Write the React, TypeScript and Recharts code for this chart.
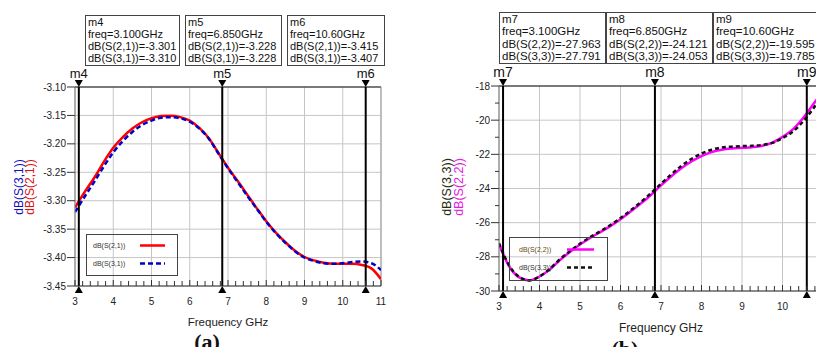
import React from "react";
import {
  LineChart,
  Line,
  XAxis,
  YAxis,
  CartesianGrid,
  ReferenceLine,
} from "recharts";

// frequency grid shared by both plots (GHz)
const FREQ = [
  3, 3.25, 3.5, 3.75, 4, 4.25, 4.5, 4.75, 5, 5.25, 5.5, 5.75, 6, 6.25, 6.5,
  6.75, 7, 7.25, 7.5, 7.75, 8, 8.25, 8.5, 8.75, 9, 9.25, 9.5, 9.75, 10, 10.25,
  10.5, 10.75, 11,
];

// (a) insertion loss
const S21 = [
  -3.312, -3.285, -3.26, -3.232, -3.207, -3.188, -3.173, -3.162, -3.155,
  -3.151, -3.1505, -3.153, -3.159, -3.172, -3.19, -3.216, -3.242, -3.265,
  -3.289, -3.313, -3.336, -3.356, -3.373, -3.388, -3.399, -3.405, -3.409,
  -3.411, -3.411, -3.411, -3.413, -3.419, -3.438,
];
const S31 = [
  -3.32, -3.293, -3.267, -3.24, -3.215, -3.195, -3.179, -3.167, -3.159,
  -3.154, -3.153, -3.155, -3.161, -3.173, -3.191, -3.217, -3.243, -3.267,
  -3.291, -3.314, -3.337, -3.357, -3.374, -3.389, -3.4, -3.406, -3.41, -3.411,
  -3.41, -3.408, -3.407, -3.41, -3.422,
];

// (b) return loss
const S22 = [
  -27.25, -28.55, -29.2, -29.38, -29.15, -28.75, -28.2, -27.72, -27.28, -26.9,
  -26.55, -26.2, -25.8, -25.35, -24.88, -24.38, -23.82, -23.3, -22.82, -22.42,
  -22.1, -21.87, -21.73, -21.66, -21.62, -21.58, -21.5, -21.32, -20.98,
  -20.55, -19.9, -19.1, -18.3,
];
const S33 = [
  -27.2, -28.5, -29.18, -29.38, -29.15, -28.72, -28.15, -27.67, -27.23,
  -26.85, -26.5, -26.14, -25.73, -25.28, -24.8, -24.28, -23.72, -23.18,
  -22.68, -22.27, -21.95, -21.73, -21.6, -21.55, -21.52, -21.5, -21.45,
  -21.33, -21.05, -20.68, -20.1, -19.35, -18.5,
];

const X_MAJOR = [3, 4, 5, 6, 7, 8, 9, 10, 11];
const Y_TICKS_A = [-3.45, -3.4, -3.35, -3.3, -3.25, -3.2, -3.15, -3.1];
const Y_TICKS_B = [
  -30, -29, -28, -27, -26, -25, -24, -23, -22, -21, -20, -19, -18,
];
const Y_GRID_B = [-30, -28, -26, -24, -22, -20, -18];

const NAMES_A = ["dB(S(2,1))", "dB(S(3,1))"];
const NAMES_B = ["dB(S(2,2))", "dB(S(3,3))"];

const MARK_NAMES_A = ["m4", "m5", "m6"];
const MARK_NAMES_B = ["m7", "m8", "m9"];
const MARK_FREQ = [3.1, 6.85, 10.6];
const MARK_FREQ_TEXT = ["3.100", "6.850", "10.60"];
const MARK_S21 = ["-3.301", "-3.228", "-3.415"];
const MARK_S31 = ["-3.310", "-3.228", "-3.407"];
const MARK_S22 = ["-27.963", "-24.121", "-19.595"];
const MARK_S33 = ["-27.791", "-24.053", "-19.785"];

// minor ticks every 0.2 GHz along the frequency axis
const X_MINOR: number[] = [];
for (let i = 0; i <= 40; i++) X_MINOR.push(Math.round((3 + i * 0.2) * 10) / 10);

const dataA = FREQ.map((f, i) => ({ f, s21: S21[i], s31: S31[i] }));
const dataB = FREQ.map((f, i) => ({ f, s22: S22[i], s33: S33[i] }));

const FONT = 'Arial, "Liberation Sans", sans-serif';
const SERIF = '"Liberation Serif", "Times New Roman", serif';
const GRID = "#c6c6c6";

function XTick(props: any) {
  const { x, y, payload } = props;
  const v = payload.value;
  const major = Math.abs(v - Math.round(v)) < 1e-6;
  return (
    <g>
      <line x1={x} x2={x} y1={y} y2={y - (major ? 6 : 5)} stroke="#333" />
      {major && (
        <text
          x={x}
          y={y + 19}
          textAnchor="middle"
          fontSize={10}
          fontFamily={FONT}
          fill="#222"
        >
          {Math.round(v)}
        </text>
      )}
    </g>
  );
}

function YTick(props: any) {
  const { x, y, payload, digits, every } = props;
  const v = payload.value;
  const major = every ? Math.round(v) % every === 0 : true;
  return (
    <g>
      <line x1={x - (major ? 8 : 4)} x2={x} y1={y} y2={y} stroke="#333" />
      {major && (
        <text
          x={x - 9}
          y={y + 3.5}
          textAnchor="end"
          fontSize={10}
          fontFamily={FONT}
          fill="#222"
        >
          {v.toFixed(digits)}
        </text>
      )}
    </g>
  );
}

function MarkerGlyph({ viewBox, name, size }: any) {
  if (!viewBox) return null;
  const { x, y, height } = viewBox;
  const b = y + height;
  return (
    <g>
      <polygon points={`${x - 4},${y - 7} ${x + 4},${y - 7} ${x},${y}`} fill="#000" />
      <polygon points={`${x - 4},${b + 7} ${x + 4},${b + 7} ${x},${b}`} fill="#000" />
      <text
        x={x}
        y={y - 9}
        textAnchor="middle"
        fontSize={size}
        fontFamily={FONT}
        fill="#111"
      >
        {name}
      </text>
    </g>
  );
}

function MarkerBox({ left, top, width, size, lh, lines }: any) {
  return (
    <div
      style={{
        position: "absolute",
        left,
        top,
        width,
        border: "1px solid #444",
        padding: "0px 2px 1px 2px",
        fontFamily: FONT,
        fontSize: size,
        lineHeight: `${lh}px`,
        color: "#111",
        whiteSpace: "nowrap",
        background: "#fff",
      }}
    >
      {lines.map((t: string) => (
        <div key={t}>{t}</div>
      ))}
    </div>
  );
}

export default function App() {
  return (
    <div
      style={{
        position: "absolute",
        left: 0,
        top: 0,
        width: 816,
        height: 347,
        overflow: "hidden",
        background: "#fff",
        fontFamily: FONT,
      }}
    >
      {/* (a) */}
      <div style={{ position: "absolute", left: 0, top: 0 }}>
        <LineChart
          width={400}
          height={347}
          data={dataA}
          margin={{ top: 87, right: 19, bottom: 31, left: 0 }}
        >
          <CartesianGrid stroke={GRID} verticalValues={X_MAJOR} horizontalValues={Y_TICKS_A} />
          <XAxis
            dataKey="f"
            type="number"
            domain={[3, 11]}
            ticks={X_MINOR}
            interval={0}
            height={30}
            tickSize={0}
            tickMargin={0}
            tickLine={false}
            axisLine={{ stroke: "#333" }}
            tick={(p: any) => <XTick {...p} />}
            allowDataOverflow
          />
          <YAxis
            type="number"
            domain={[-3.45, -3.1]}
            ticks={Y_TICKS_A}
            interval={0}
            width={75}
            tickSize={0}
            tickMargin={0}
            tickLine={false}
            axisLine={{ stroke: "#777" }}
            tick={(p: any) => <YTick {...p} digits={2} />}
            allowDataOverflow
          />
          <ReferenceLine y={-3.1} stroke="#111" strokeWidth={1.2} />
          <ReferenceLine x={11} stroke="#999" />
          <Line
            type="monotone"
            dataKey="s21"
            stroke="#ff0000"
            strokeWidth={2.5}
            dot={false}
            isAnimationActive={false}
          />
          <Line
            type="monotone"
            dataKey="s31"
            stroke="#0000c8"
            strokeWidth={2.5}
            strokeDasharray="5 3"
            dot={false}
            isAnimationActive={false}
          />
          {MARK_FREQ.map((f, i) => (
            <ReferenceLine
              key={f}
              x={f}
              stroke="#000"
              strokeWidth={2}
              label={(p: any) => (
                <MarkerGlyph viewBox={p.viewBox} name={MARK_NAMES_A[i]} size={13} />
              )}
            />
          ))}
        </LineChart>
      </div>

      {/* (b) */}
      <div style={{ position: "absolute", left: 408, top: 0 }}>
        <LineChart
          width={430}
          height={347}
          data={dataB}
          margin={{ top: 86, right: 15, bottom: 26, left: 0 }}
        >
          <CartesianGrid stroke={GRID} verticalValues={X_MAJOR} horizontalValues={Y_GRID_B} />
          <XAxis
            dataKey="f"
            type="number"
            domain={[3, 11]}
            ticks={X_MINOR}
            interval={0}
            height={30}
            tickSize={0}
            tickMargin={0}
            tickLine={false}
            axisLine={{ stroke: "#333" }}
            tick={(p: any) => <XTick {...p} />}
            allowDataOverflow
          />
          <YAxis
            type="number"
            domain={[-30, -18]}
            ticks={Y_TICKS_B}
            interval={0}
            width={91}
            tickSize={0}
            tickMargin={0}
            tickLine={false}
            axisLine={{ stroke: "#777" }}
            tick={(p: any) => <YTick {...p} digits={0} every={2} />}
            allowDataOverflow
          />
          <ReferenceLine y={-18} stroke="#111" strokeWidth={1.2} />
          <Line
            type="monotone"
            dataKey="s22"
            stroke="#ff00ff"
            strokeWidth={2.5}
            dot={false}
            isAnimationActive={false}
          />
          <Line
            type="monotone"
            dataKey="s33"
            stroke="#111"
            strokeWidth={2.5}
            strokeDasharray="4 3"
            dot={false}
            isAnimationActive={false}
          />
          {MARK_FREQ.map((f, i) => (
            <ReferenceLine
              key={f}
              x={f}
              stroke="#000"
              strokeWidth={2}
              label={(p: any) => (
                <MarkerGlyph viewBox={p.viewBox} name={MARK_NAMES_B[i]} size={14} />
              )}
            />
          ))}
        </LineChart>
      </div>

      {/* marker readouts */}
      {MARK_NAMES_A.map((m, i) => (
        <MarkerBox
          key={m}
          left={[85, 185, 287][i]}
          top={15}
          width={[89, 91, 92][i]}
          size={11}
          lh={12}
          lines={[
            m,
            `freq=${MARK_FREQ_TEXT[i]}GHz`,
            `${NAMES_A[0]}=${MARK_S21[i]}`,
            `${NAMES_A[1]}=${MARK_S31[i]}`,
          ]}
        />
      ))}
      {MARK_NAMES_B.map((m, i) => (
        <MarkerBox
          key={m}
          left={[499, 606, 713][i]}
          top={12}
          width={101}
          size={11.5}
          lh={12.3}
          lines={[
            m,
            `freq=${MARK_FREQ_TEXT[i]}GHz`,
            `${NAMES_B[0]}=${MARK_S22[i]}`,
            `${NAMES_B[1]}=${MARK_S33[i]}`,
          ]}
        />
      ))}

      {/* titles, legends, captions */}
      <svg
        width={816}
        height={347}
        style={{ position: "absolute", left: 0, top: 0, pointerEvents: "none" }}
        fontFamily={FONT}
      >
        <text transform="translate(23,187) rotate(-90)" textAnchor="middle" fontSize={12} fill="#1010c0">
          {NAMES_A[1]}
        </text>
        <text transform="translate(34,187) rotate(-90)" textAnchor="middle" fontSize={12} fill="#e01010">
          {NAMES_A[0]}
        </text>
        <text transform="translate(451,187) rotate(-90)" textAnchor="middle" fontSize={12.5} fill="#2a2a10">
          {NAMES_B[1]}
        </text>
        <text transform="translate(463,187) rotate(-90)" textAnchor="middle" fontSize={12.5} fill="#e020e0">
          {NAMES_B[0]}
        </text>

        <rect x={86.5} y={234.5} width={91} height={41} fill="none" stroke="#444" />
        <text x={93} y={248} fontSize={7} fill="#333">{NAMES_A[0]}</text>
        <text x={93} y={266} fontSize={7} fill="#333">{NAMES_A[1]}</text>
        <line x1={140} x2={165} y1={245.5} y2={245.5} stroke="#ff0000" strokeWidth={2.5} />
        <line x1={140} x2={165} y1={263.5} y2={263.5} stroke="#0000c8" strokeWidth={2.5} strokeDasharray="5 3" />

        <rect x={509.5} y={237.5} width={98} height={43} fill="none" stroke="#444" />
        <text x={519} y={251.5} fontSize={7} fill="#6a4a10">{NAMES_B[0]}</text>
        <text x={519} y={269.5} fontSize={7} fill="#333">{NAMES_B[1]}</text>
        <line x1={567} x2={594} y1={249.5} y2={249.5} stroke="#ff00ff" strokeWidth={2.5} />
        <line x1={567} x2={594} y1={267.5} y2={267.5} stroke="#111" strokeWidth={2.5} strokeDasharray="4 3" />

        <text x={228} y={326} textAnchor="middle" fontSize={11.5} fill="#222">Frequency GHz</text>
        <text x={661} y={332} textAnchor="middle" fontSize={12} fill="#222">Frequency GHz</text>
        <text x={207} y={349} textAnchor="middle" fontSize={22} fontWeight="bold" fontFamily={SERIF} fill="#111">(a)</text>
        <text x={625} y={356} textAnchor="middle" fontSize={22} fontWeight="bold" fontFamily={SERIF} fill="#111">(b)</text>
      </svg>
    </div>
  );
}
